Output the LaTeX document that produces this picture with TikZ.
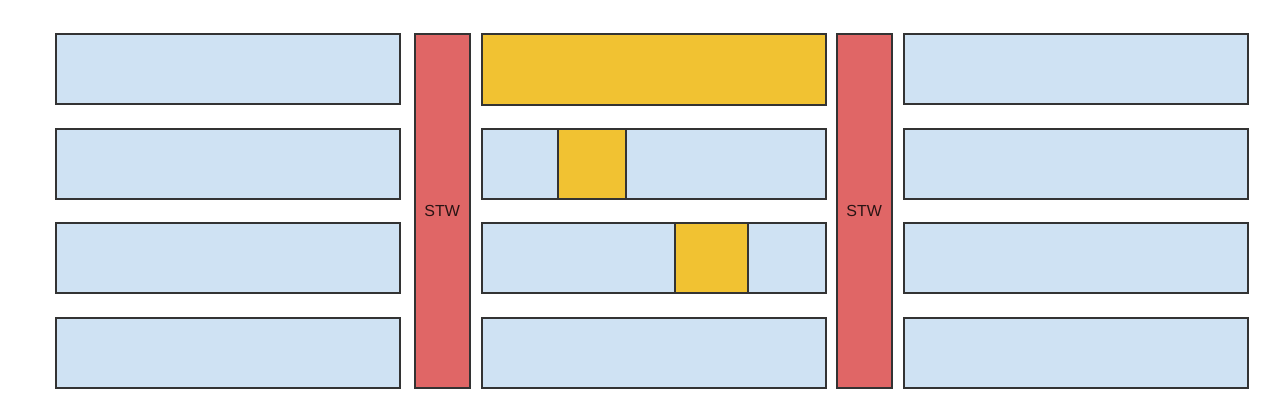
\documentclass[tikz,border=0pt]{standalone}
\usepackage{fontspec}
\setmainfont{Liberation Sans}
\definecolor{lblue}{HTML}{CFE2F3}
\definecolor{lred}{HTML}{E06666}
\definecolor{lyel}{HTML}{F1C232}
\definecolor{edge}{HTML}{333333}
\definecolor{stwtext}{HTML}{2A1414}
\begin{document}
\begin{tikzpicture}[x=1pt,y=-1pt,
  blk/.style={draw=edge, line width=1.5pt, inner sep=0pt, anchor=north west},
  bluebox/.style={blk, fill=lblue, minimum width=344pt, minimum height=70pt},
  stwbox/.style={blk, fill=lred, minimum width=55pt, minimum height=354pt, text=stwtext, font=\fontsize{16}{19}\selectfont},
  yelbox/.style={blk, fill=lyel, minimum height=70pt}]
\useasboundingbox (0,0) rectangle (1280,413);
% left column
\node[bluebox] (l1) at (55,33) {};
\node[bluebox] (l2) at (55,128) {};
\node[bluebox] (l3) at (55,222) {};
\node[bluebox] (l4) at (55,317) {};
% STW 1
\node[stwbox] (s1) at (414,33) {STW};
% middle column
\node[yelbox, minimum width=344pt, minimum height=71pt] (m1) at (481,33) {};
\node[bluebox] (m2) at (481,128) {};
\node[bluebox] (m3) at (481,222) {};
\node[bluebox] (m4) at (481,317) {};
\node[yelbox, minimum width=68pt] (y2) at (557,128) {};
\node[yelbox, minimum width=73pt] (y3) at (674,222) {};
% STW 2
\node[stwbox] (s2) at (836,33) {STW};
% right column
\node[bluebox] (r1) at (903,33) {};
\node[bluebox] (r2) at (903,128) {};
\node[bluebox] (r3) at (903,222) {};
\node[bluebox] (r4) at (903,317) {};
\end{tikzpicture}
\end{document}
